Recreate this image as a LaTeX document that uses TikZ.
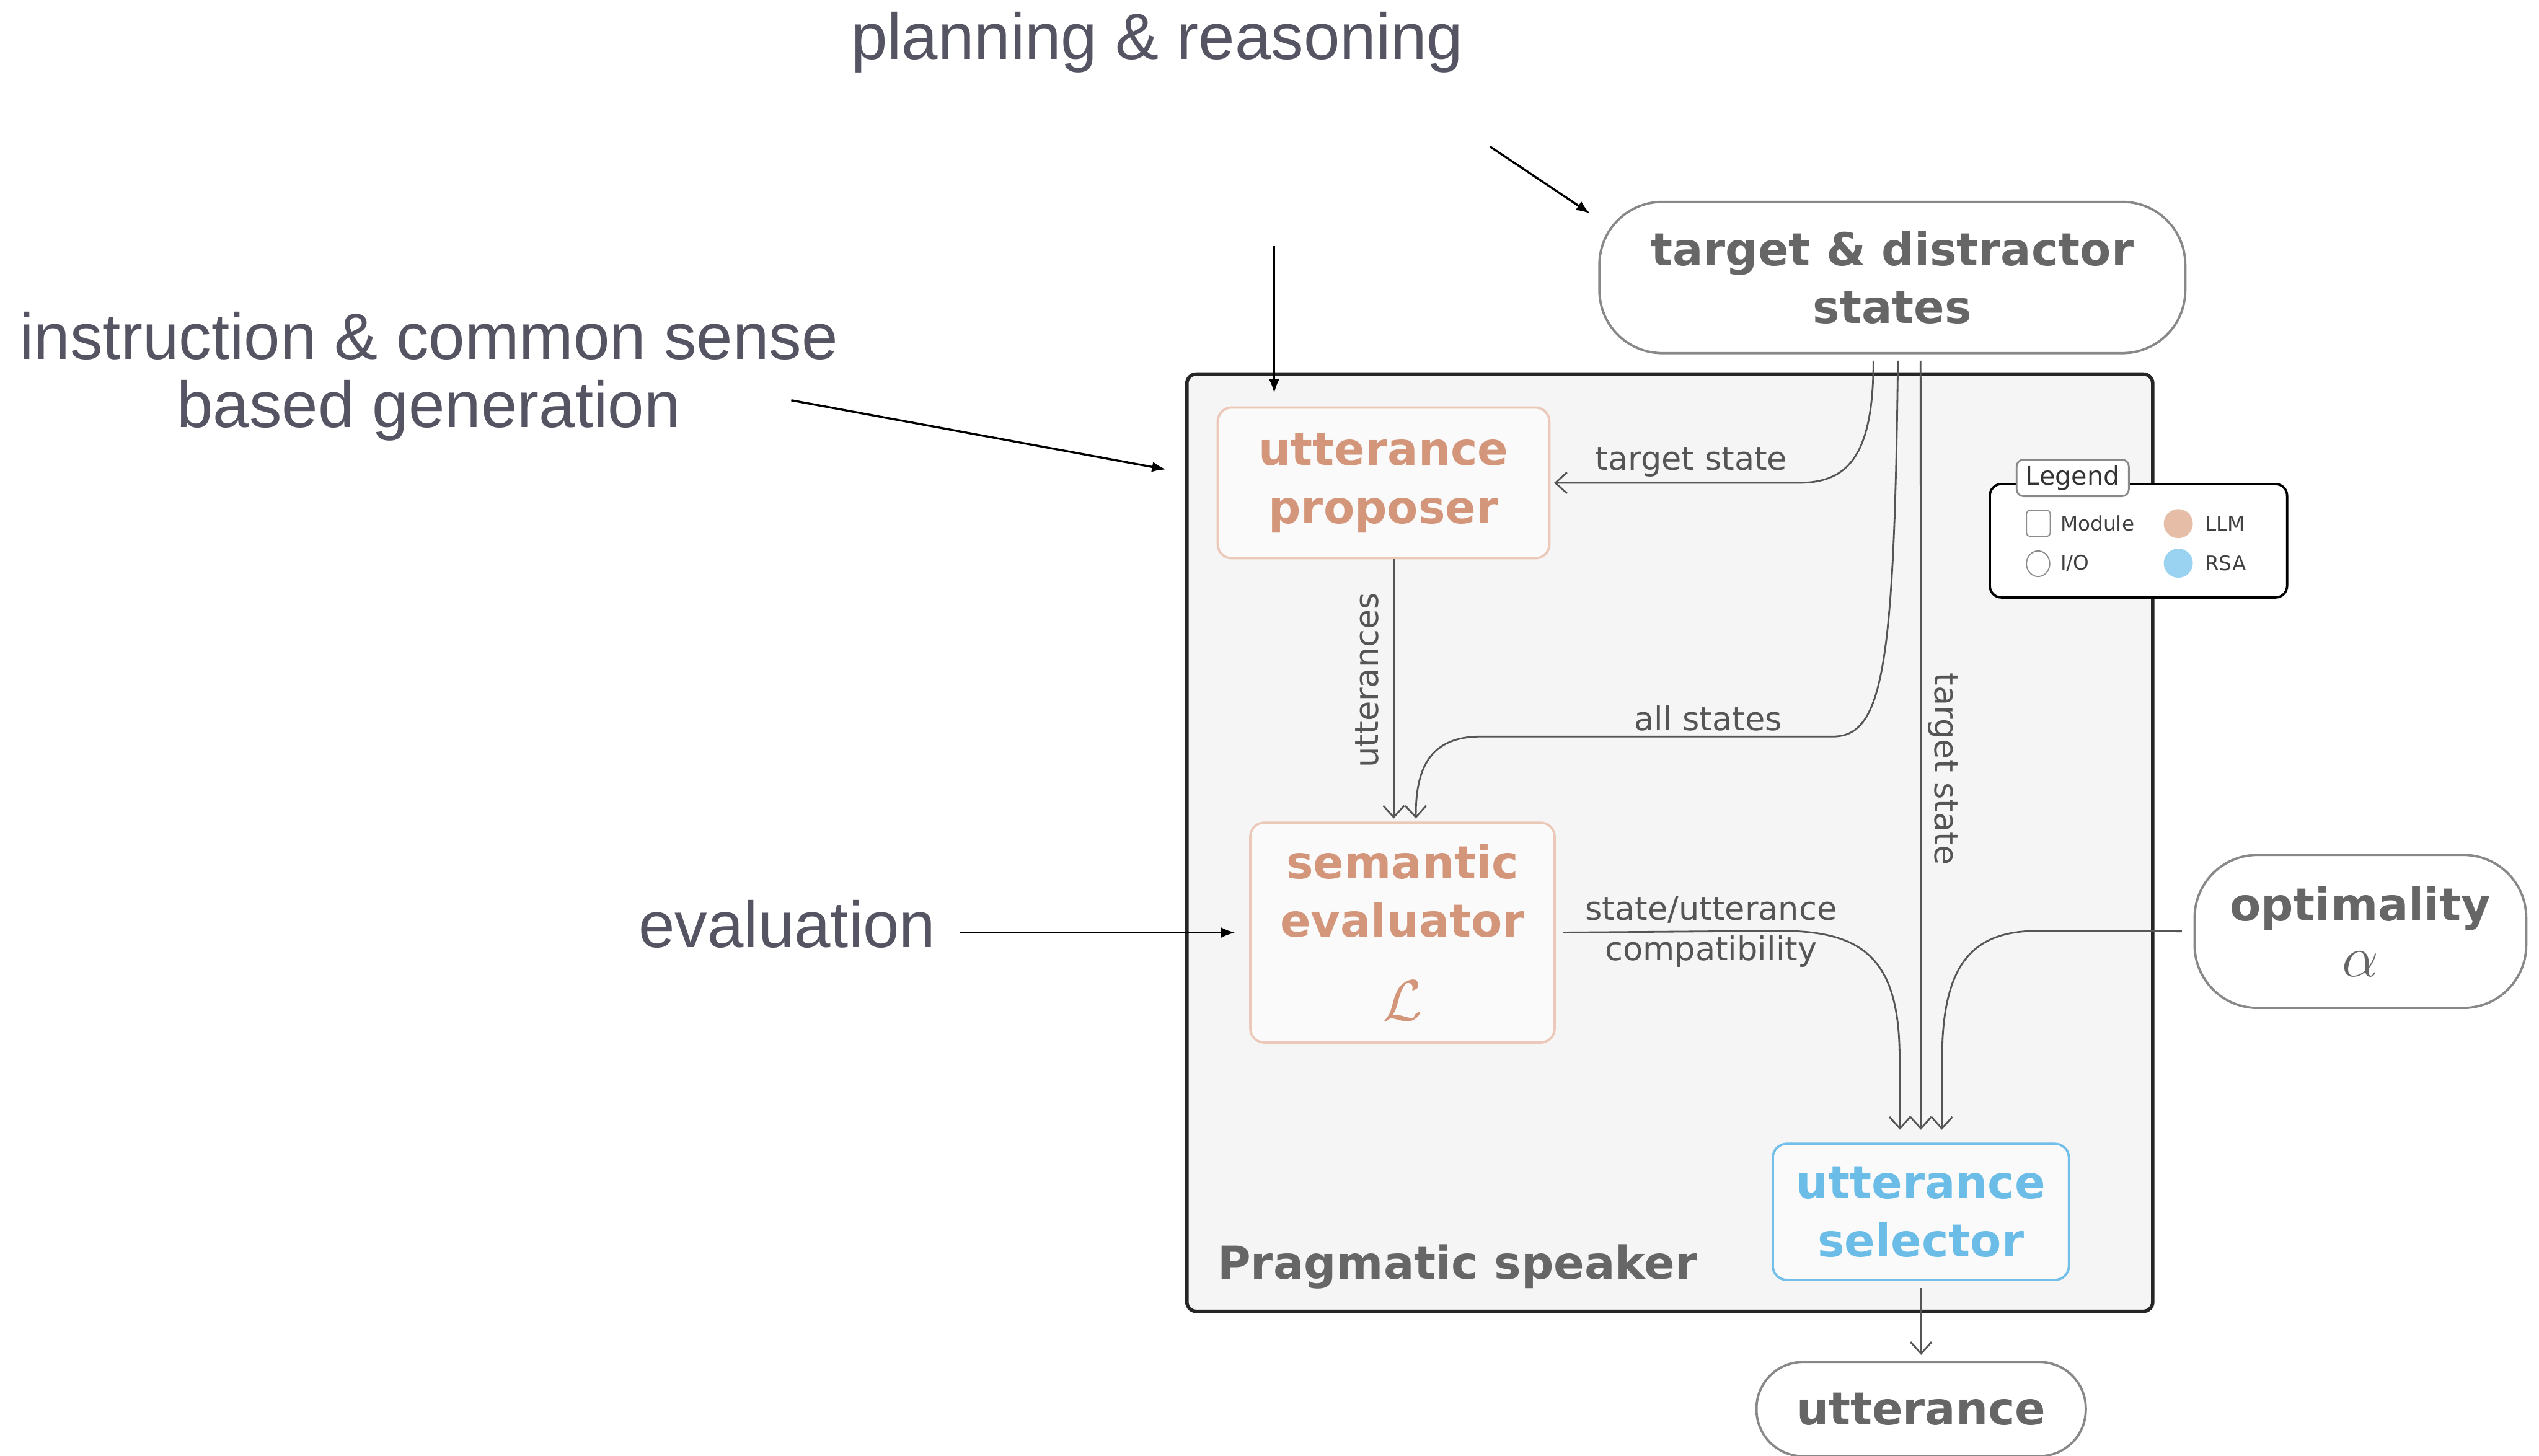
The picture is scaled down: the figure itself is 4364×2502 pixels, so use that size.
\documentclass[tikz,border=0pt]{standalone}
\usepackage{fontspec}
\setmainfont{DejaVu Sans}
\newfontfamily\annofamily{Liberation Sans}
\usetikzlibrary{arrows.meta,calc,shapes.geometric}

\definecolor{llmtext}{HTML}{D4967A}
\definecolor{llmedge}{HTML}{EBC8B8}
\definecolor{llmdot}{HTML}{E6BDA7}
\definecolor{rsatext}{HTML}{6BBDE8}
\definecolor{rsaedge}{HTML}{72BFE9}
\definecolor{rsadot}{HTML}{9AD3F1}
\definecolor{iotext}{HTML}{666666}
\definecolor{ioedge}{HTML}{888888}
\definecolor{wirecol}{HTML}{555555}
\definecolor{panelfill}{HTML}{F5F5F5}
\definecolor{modfill}{HTML}{FAFAFA}
\definecolor{annocol}{HTML}{555462}

\newcommand\modfont{\fontsize{19.5}{25}\selectfont\bfseries}
\newcommand\wirefont{\fontsize{14}{16}\selectfont}
\newcommand\keyfont{\fontsize{8.7}{10}\selectfont}

\tikzset{
  module/.style={draw, line width=1pt, rounded corners=6pt, fill=modfill,
    inner sep=0pt, align=center, font=\modfont},
  llm/.style={module, draw=llmedge, text=llmtext},
  rsa/.style={module, draw=rsaedge, text=rsatext},
  io/.style={draw=ioedge, line width=1pt, fill=white, text=iotext,
    align=center, font=\modfont, inner sep=0pt},
  wire/.style={draw=wirecol, line width=0.75pt,
    -{Straight Barb[length=5pt,width=9pt]}},
  wirelabel/.style={text=wirecol, font=\wirefont, inner sep=0pt},
  anno/.style={text=annocol, font=\annofamily\fontsize{28}{30}\selectfont, inner sep=0pt},
  annoarrow/.style={draw=black, line width=0.9pt, -{Latex[length=6pt,width=4.5pt]}},
  keytext/.style={text=black!75, font=\keyfont, inner sep=0pt, anchor=west}
}

\begin{document}
\begin{tikzpicture}[x=0.25pt, y=-0.25pt]
\fill[white] (0,0) rectangle (4364,2502);
\useasboundingbox (0,0) rectangle (4364,2502);

% the pragmatic speaker panel
\node[draw=black!85, line width=1.5pt, fill=panelfill, rounded corners=4pt,
  minimum width=415pt, minimum height=402.75pt, inner sep=0pt] (speaker) at (2870,1448.5) {};
\node[anchor=base west, text=iotext, font=\modfont, inner sep=0pt] (speakerlabel)
  at (2092,2198) {Pragmatic speaker};

% modules
\node[llm, minimum width=142.5pt, minimum height=64.75pt] (proposer) at (2378,830)
  {utterance\\proposer};
\node[llm, minimum width=130.75pt, minimum height=94.5pt] (evaluator) at (2410.5,1603)
  {semantic\\evaluator\\[11pt]{\mdseries\fontsize{32}{32}\selectfont$\mathcal{L}$}};
\node[rsa, minimum width=127.25pt, minimum height=58.5pt] (selector) at (3301.5,2083)
  {utterance\\selector};

% inputs and output
\node[io, rounded corners=27pt, minimum width=251.75pt, minimum height=65pt] (td) at (3252.5,477)
  {target \& distractor\\states};
\node[io, rounded corners=27pt, minimum width=142.5pt, minimum height=65.75pt] (opt) at (4057,1601)
  {optimality\\[-1pt]{\mdseries\fontsize{27}{27}\selectfont$\alpha$}};
\node[io, rounded corners=20pt, minimum width=141.5pt, minimum height=40.5pt] (out) at (3302,2422)
  {utterance};

% legend
\node[draw=black, line width=1pt, fill=white, rounded corners=5pt,
  minimum width=127.75pt, minimum height=48.75pt, inner sep=0pt] (legend) at (3675.5,929.5) {};
\node[draw=ioedge, line width=0.75pt, fill=white, rounded corners=3pt,
  minimum width=48.25pt, minimum height=15.75pt, inner sep=0pt, text=black!80,
  font=\fontsize{11}{12}\selectfont] (legendtab) at (3562.5,821.5) {Legend};
\node[draw=black!45, line width=0.5pt, rounded corners=1.5pt, minimum width=10.25pt,
  minimum height=11.25pt, inner sep=0pt] (keymod) at (3503.5,899.5) {};
\node[keytext] (keymodt) at (3541,900) {Module};
\node[ellipse, draw=black!45, line width=0.5pt, minimum width=10pt, minimum height=11pt,
  inner sep=0pt] (keyio) at (3503,969) {};
\node[keytext] (keyiot) at (3541,968) {I/O};
\node[circle, fill=llmdot, minimum size=12.5pt, inner sep=0pt] (keyllm) at (3744,900) {};
\node[keytext] (keyllmt) at (3789,900) {LLM};
\node[circle, fill=rsadot, minimum size=12.5pt, inner sep=0pt] (keyrsa) at (3744,968) {};
\node[keytext] (keyrsat) at (3789,968) {RSA};

% connector end points
\coordinate (td1) at ($(td.south)+(-32.5,11)$);
\coordinate (td2) at ($(td.south)+(9.5,11)$);
\coordinate (td3) at ($(td.south)+(48.5,11)$);
\coordinate (s1) at ($(selector.north)+(-36,-22)$);
\coordinate (s2) at ($(selector.north)+(0,-22)$);
\coordinate (s3) at ($(selector.north)+(36,-22)$);
\coordinate (e1) at ($(evaluator.north)+(-15,-5)$);
\coordinate (e2) at ($(evaluator.north)+(23,-5)$);

% data flow
\draw[wire, shorten >=1.5pt] (td1) .. controls (3220,790) and (3172,830) .. (3090,830) -- (proposer.east);
\draw[wire] (td2) .. controls (3256,1150) and (3236,1266) .. (3150,1266) -- (2545,1266)
  .. controls (2458,1266) and (2433,1320) .. (e2);
\draw[wire] (td3) -- (s2);
\draw[wire] (proposer.south -| e1) -- (e1);
\draw[wire, shorten <=3pt] (evaluator.east) -- (3060,1600)
  .. controls (3205,1600) and (3265,1650) .. (3265,1820) -- (s1);
\draw[wire, shorten <=5pt] (opt.west) -- (3504,1600)
  .. controls (3395,1600) and (3338,1650) .. (3338,1820) -- (s3);
\draw[wire, shorten <=3pt, shorten >=2.5pt] (selector.south) -- (out.north);

% connector labels
\node[wirelabel] (lbltarget) at (2907,794) {target state};
\node[wirelabel] (lblall) at (2936,1235) {all states};
\node[wirelabel, rotate=90] (lblutt) at (2350,1169) {utterances};
\node[wirelabel, rotate=-90] (lbltarget2) at (3340,1322) {target state};
\node[wirelabel] (lblcompat1) at (2941,1564) {state/utterance};
\node[wirelabel] (lblcompat2) at (2941,1635) {compatibility};

% annotations
\node[anno, anchor=base] (plan) at (1989,102) {planning \& reasoning};
\node[anno, anchor=base] (instr) at (737,617) {instruction \& common sense};
\node[anno, anchor=base] (instr2) at (737,735) {based generation};
\node[anno, anchor=base] (evaltext) at (1353,1628) {evaluation};

\coordinate (planfrom) at (2561,252);
\coordinate (planto) at (2733,367);
\coordinate (genfrom) at (2190,423);
\coordinate (gento) at (2190,676);
\coordinate (instrfrom) at (1360,688);
\coordinate (instrto) at (2004,807);
\draw[annoarrow] (planfrom) -- (planto);
\draw[annoarrow] (genfrom) -- (gento);
\draw[annoarrow] (instrfrom) -- (instrto);
\draw[annoarrow, shorten <=10pt, shorten >=6pt] (evaltext.east |- evaluator.west) -- (evaluator.west);
\end{tikzpicture}
\end{document}
